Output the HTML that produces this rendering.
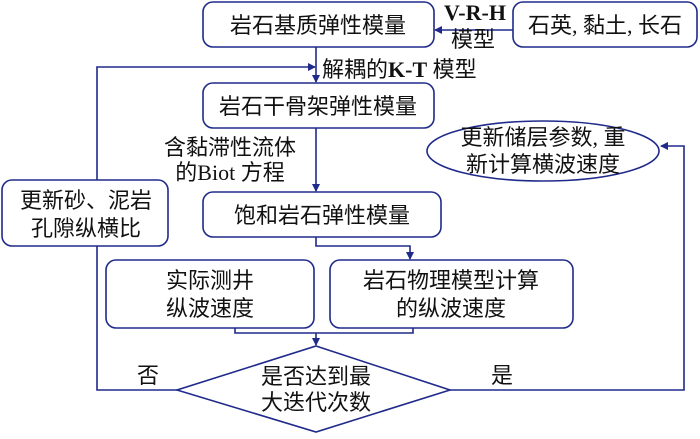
<!DOCTYPE html>
<html><head><meta charset="utf-8"><style>
body{margin:0;background:#fff;}
svg text{font-family:"Liberation Serif","Noto Sans CJK SC",sans-serif;font-size:22px;fill:#111;}
</style></head><body>
<svg width="700" height="434" viewBox="0 0 700 434" xmlns="http://www.w3.org/2000/svg">
<defs><marker id="a" markerWidth="8" markerHeight="8" refX="7" refY="4" orient="auto" markerUnits="userSpaceOnUse"><path d="M0,0 L8,4 L0,8 z" fill="#1f2a8a"/></marker></defs>
<g fill="#fff" stroke="#1f2a8a" stroke-width="1.6">
<rect x="203" y="2" width="231" height="45" rx="10"/>
<rect x="513" y="2" width="184" height="45" rx="10"/>
<rect x="203" y="83" width="231" height="45" rx="10"/>
<ellipse cx="543" cy="151" rx="116" ry="30"/>
<rect x="2" y="180" width="166" height="66" rx="10"/>
<rect x="203" y="192" width="238" height="45" rx="10"/>
<rect x="106" y="260" width="208" height="68" rx="10"/>
<rect x="330" y="260" width="243" height="68" rx="10"/>
<path d="M316,346 L450,390 L316,432 L177,390 Z"/>
</g>
<g fill="none" stroke="#1f2a8a" stroke-width="1.6">
<line x1="513" y1="30" x2="435" y2="30" marker-end="url(#a)"/>
<line x1="316" y1="47" x2="316" y2="82" marker-end="url(#a)"/>
<polyline points="97,180 97,67 315,67" marker-end="url(#a)"/>
<line x1="316" y1="128" x2="316" y2="191" marker-end="url(#a)"/>
<polyline points="316,237 316,246 410,246 410,259" marker-end="url(#a)"/>
<polyline points="235,328 235,333 413,333 413,328"/>
<line x1="316" y1="333" x2="316" y2="345" marker-end="url(#a)"/>
<polyline points="177,390 97,390 97,246"/>
<polyline points="450,390 684,390 684,146 661,146" marker-end="url(#a)"/>
</g>
<g text-anchor="middle">
<text x="318" y="33">岩石基质弹性模量</text>
<text x="605" y="33">石英, 黏土, 长石</text>
<text x="475" y="20" font-weight="bold">V-R-H</text>
<text x="473" y="47">模型</text>
<text x="318" y="114">岩石干骨架弹性模量</text>
<text x="543" y="145">更新储层参数, 重</text>
<text x="543" y="172">新计算横波速度</text>
<text x="86" y="208">更新砂、泥岩</text>
<text x="86" y="236">孔隙纵横比</text>
<text x="322" y="223">饱和岩石弹性模量</text>
<text x="210" y="288">实际测井</text>
<text x="210" y="316">纵波速度</text>
<text x="451" y="288">岩石物理模型计算</text>
<text x="451" y="316">的纵波速度</text>
<text x="316" y="384">是否达到最</text>
<text x="316" y="410">大迭代次数</text>
<text x="148" y="383">否</text>
<text x="502" y="383">是</text>
<text x="230" y="155">含黏滞性流体</text>
<text x="230" y="180">的Biot 方程</text>
</g>
<text x="322" y="77">解耦的<tspan font-weight="bold">K-T</tspan> 模型</text>
</svg>
</body></html>
